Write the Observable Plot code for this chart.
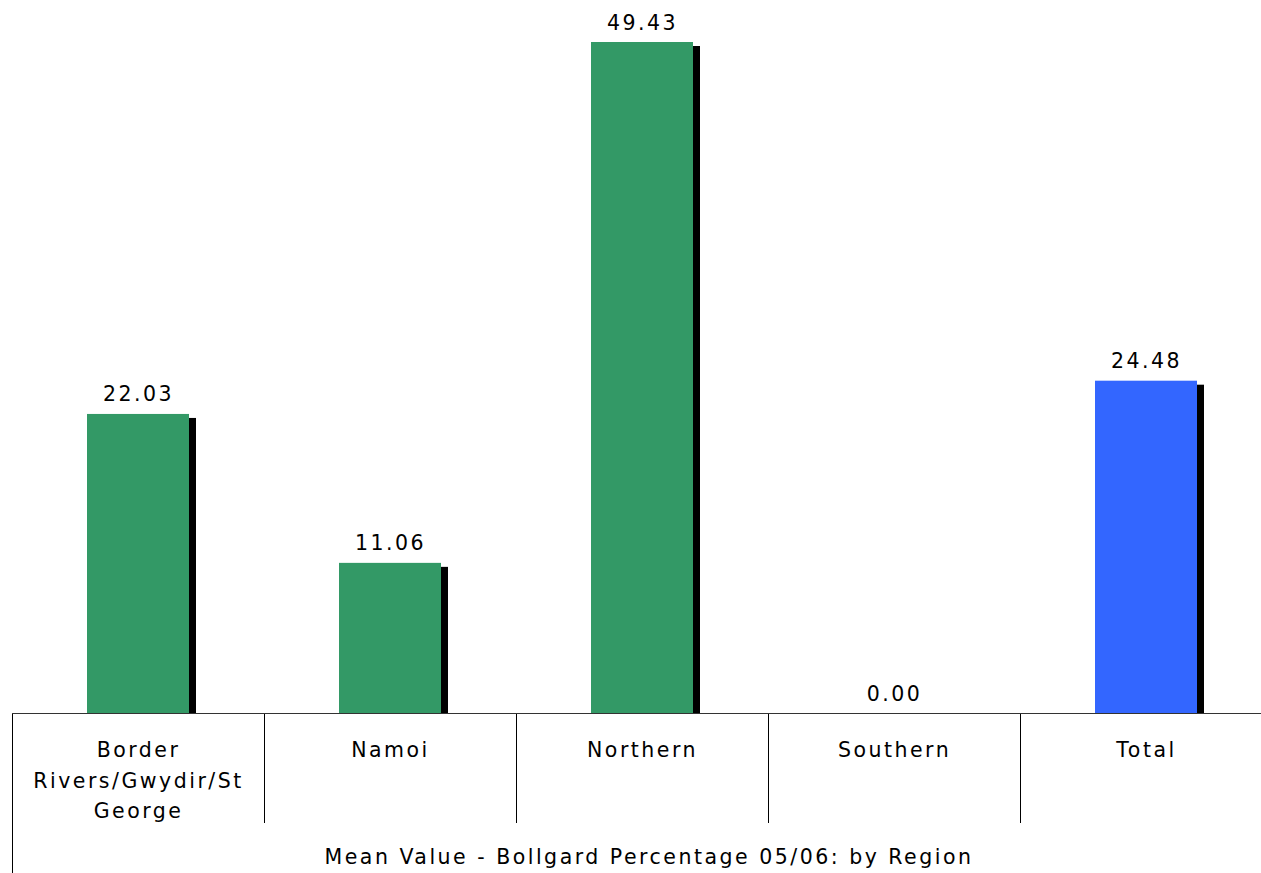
<!DOCTYPE html>
<html><head><meta charset="utf-8">
<script src="https://cdn.jsdelivr.net/npm/d3@7"></script>
<script src="https://cdn.jsdelivr.net/npm/@observablehq/plot@0.6"></script>
<style>body{margin:0;background:#fff}</style>
</head><body><div id="chart"></div>
<script>
const categories = ["Border Rivers/Gwydir/St George", "Namoi", "Northern", "Southern", "Total"];
const categoryLabels = ["Border\nRivers/Gwydir/St\nGeorge", "Namoi", "Northern", "Southern", "Total"];
const values = [22.03, 11.06, 49.43, 0.00, 24.48];
const barColors = ["#339966", "#339966", "#339966", "#339966", "#3366FF"];
const title = "Mean Value - Bollgard Percentage 05/06: by Region";

const data = categories.map((c, i) => ({category: c, label: categoryLabels[i], value: values[i], color: barColors[i]}));

const W = 1261, H = 873;

const frameLines = (index, scales, channels, dimensions) => {
  const x = scales.x, y = scales.y;
  const step = x.step();
  const y0 = y(0);
  const g = d3.create("svg:g").attr("stroke", "#000").attr("stroke-width", 1).attr("shape-rendering", "crispEdges");
  const first = x(categories[0]) - (step - x.bandwidth()) / 2;
  // left border down to the bottom edge
  g.append("line").attr("x1", first + 0.5).attr("x2", first + 0.5).attr("y1", y0).attr("y2", dimensions.height);
  // dividers between categories
  categories.slice(1).forEach(c => {
    const xv = Math.round(x(c) - (step - x.bandwidth()) / 2) + 0.5;
    g.append("line").attr("x1", xv).attr("x2", xv).attr("y1", y0).attr("y2", y0 + 110);
  });
  // baseline
  g.append("line").attr("x1", first).attr("x2", dimensions.width).attr("y1", Math.round(y0) + 0.5).attr("y2", Math.round(y0) + 0.5).attr("stroke", "#333");
  return g.node();
};

const chart = Plot.plot({
  width: W,
  height: H,
  marginTop: 42,
  marginBottom: 160,
  marginLeft: 12,
  marginRight: 0,
  style: {fontFamily: "'DejaVu Sans', Verdana, sans-serif", fontSize: "20.5px", letterSpacing: "2.5px", background: "#fff", color: "#000"},
  x: {type: "band", domain: categories, range: [12, 1273], paddingInner: 0.595, paddingOuter: 0.2975, axis: null},
  y: {domain: [0, d3.max(values)], axis: null},
  color: {type: "identity"},
  marks: [
    Plot.barY(data.filter(d => d.value > 0), {x: "category", y: "value", fill: "#000", dx: 7, dy: 4, insetBottom: 4}),
    Plot.barY(data, {x: "category", y: "value", fill: "color"}),
    Plot.text(data, {x: "category", y: "value", text: d => d.value.toFixed(2), lineAnchor: "bottom", dy: -13, fontSize: 20.5, fill: "#000"}),
    Plot.text(data, {x: "category", y: 0, text: "label", lineAnchor: "top", dy: 22, fontSize: 20.5, lineHeight: 1.49, fill: "#000"}),
    Plot.text([title], {frameAnchor: "bottom", dx: 12, dy: 144, lineAnchor: "middle", fontSize: 20.5, fill: "#000"}),
    frameLines
  ]
});
document.getElementById("chart").appendChild(chart);
</script>
</body></html>
